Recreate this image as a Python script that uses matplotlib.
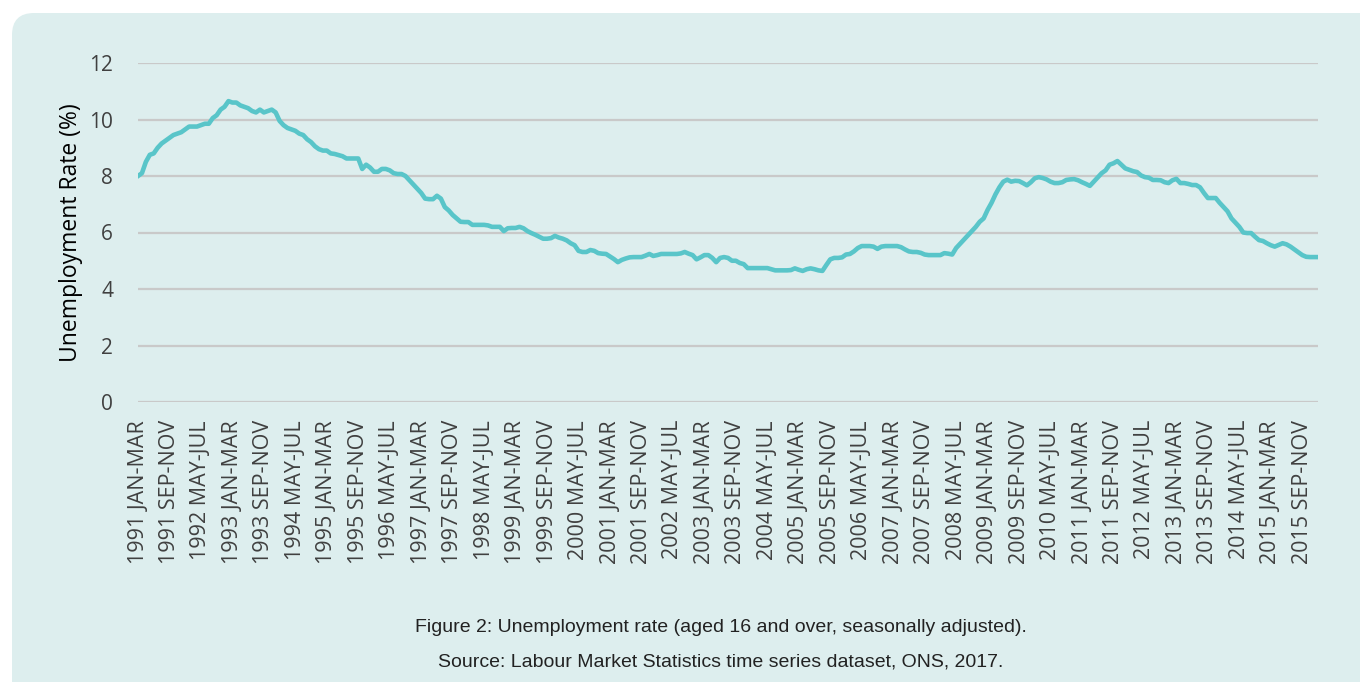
import matplotlib
matplotlib.use('Agg')
import matplotlib.pyplot as plt
from matplotlib.patches import FancyBboxPatch
from matplotlib.transforms import IdentityTransform

# unemployment rate, rolling quarters, 1991 JAN-MAR .. 2016 JAN-MAR
rate = [
    8.0, 8.1, 8.5, 8.75, 8.8, 9.0, 9.15, 9.25, 9.35, 9.45, 9.5, 9.55,
    9.65, 9.75, 9.75, 9.75, 9.8, 9.85, 9.85, 10.05, 10.15, 10.35, 10.45, 10.65,
    10.6, 10.6, 10.5, 10.45, 10.4, 10.3, 10.25, 10.35, 10.25, 10.3, 10.35, 10.25,
    9.95, 9.8, 9.7, 9.65, 9.6, 9.5, 9.45, 9.3, 9.2, 9.05, 8.95, 8.9,
    8.9, 8.8, 8.78, 8.74, 8.7, 8.62, 8.62, 8.62, 8.62, 8.25, 8.4, 8.3,
    8.15, 8.15, 8.25, 8.25, 8.2, 8.1, 8.07, 8.07, 8.0, 7.85, 7.7, 7.55,
    7.4, 7.2, 7.18, 7.18, 7.3, 7.2, 6.9, 6.78, 6.62, 6.5, 6.38, 6.37,
    6.37, 6.27, 6.27, 6.27, 6.27, 6.25, 6.2, 6.2, 6.2, 6.05, 6.15, 6.16,
    6.16, 6.2, 6.15, 6.05, 5.98, 5.92, 5.85, 5.78, 5.78, 5.8, 5.88, 5.82,
    5.78, 5.72, 5.62, 5.55, 5.35, 5.31, 5.31, 5.38, 5.35, 5.27, 5.25, 5.24,
    5.15, 5.06, 4.95, 5.03, 5.08, 5.12, 5.13, 5.13, 5.13, 5.18, 5.24, 5.17,
    5.2, 5.24, 5.24, 5.24, 5.24, 5.24, 5.26, 5.31, 5.25, 5.2, 5.05, 5.12,
    5.2, 5.2, 5.1, 4.95, 5.1, 5.13, 5.1, 5.0, 5.0, 4.92, 4.88, 4.74,
    4.74, 4.74, 4.74, 4.74, 4.74, 4.7, 4.66, 4.66, 4.66, 4.66, 4.67, 4.73,
    4.68, 4.64, 4.7, 4.73, 4.7, 4.66, 4.64, 4.85, 5.05, 5.1, 5.1, 5.12,
    5.22, 5.24, 5.33, 5.45, 5.52, 5.52, 5.52, 5.5, 5.42, 5.5, 5.52, 5.52,
    5.52, 5.52, 5.48, 5.4, 5.33, 5.31, 5.31, 5.28, 5.22, 5.2, 5.2, 5.2,
    5.2, 5.27, 5.25, 5.22, 5.45, 5.6, 5.75, 5.9, 6.05, 6.2, 6.38, 6.5,
    6.8, 7.05, 7.35, 7.6, 7.8, 7.87, 7.8, 7.83, 7.82, 7.75, 7.67, 7.78,
    7.92, 7.96, 7.93, 7.88, 7.8, 7.75, 7.75, 7.78, 7.86, 7.88, 7.89, 7.85,
    7.78, 7.72, 7.65, 7.8, 7.95, 8.1, 8.2, 8.4, 8.45, 8.53, 8.4, 8.27,
    8.22, 8.17, 8.14, 8.02, 7.96, 7.94, 7.86, 7.86, 7.85, 7.78, 7.75, 7.85,
    7.9, 7.75, 7.75, 7.72, 7.68, 7.68, 7.6, 7.4, 7.22, 7.22, 7.22, 7.05,
    6.9, 6.75, 6.5, 6.35, 6.2, 6.0, 5.98, 5.98, 5.85, 5.73, 5.7, 5.62,
    5.55, 5.5, 5.56, 5.62, 5.58, 5.5, 5.4, 5.3, 5.2, 5.14, 5.13, 5.13,
    5.13,
]

tick_labels = [
    '1991 JAN-MAR', '1991 SEP-NOV', '1992 MAY-JUL', '1993 JAN-MAR', '1993 SEP-NOV',
    '1994 MAY-JUL', '1995 JAN-MAR', '1995 SEP-NOV', '1996 MAY-JUL', '1997 JAN-MAR',
    '1997 SEP-NOV', '1998 MAY-JUL', '1999 JAN-MAR', '1999 SEP-NOV', '2000 MAY-JUL',
    '2001 JAN-MAR', '2001 SEP-NOV', '2002 MAY-JUL', '2003 JAN-MAR', '2003 SEP-NOV',
    '2004 MAY-JUL', '2005 JAN-MAR', '2005 SEP-NOV', '2006 MAY-JUL', '2007 JAN-MAR',
    '2007 SEP-NOV', '2008 MAY-JUL', '2009 JAN-MAR', '2009 SEP-NOV', '2010 MAY-JUL',
    '2011 JAN-MAR', '2011 SEP-NOV', '2012 MAY-JUL', '2013 JAN-MAR', '2013 SEP-NOV',
    '2014 MAY-JUL', '2015 JAN-MAR', '2015 SEP-NOV',
]
tick_step = 8   # one label every 8 months

y_ticks = [0, 2, 4, 6, 8, 10, 12]

caption = 'Figure 2: Unemployment rate (aged 16 and over, seasonally adjusted).'
source = 'Source: Labour Market Statistics time series dataset, ONS, 2017.'

panel_col = '#ddeeee'
line_col = '#59c5c9'
grid_col = '#c9c9c9'
text_col = '#404040'

plt.rcParams['font.family'] = ['Open Sans', 'DejaVu Sans']

fig = plt.figure(figsize=(13.6, 6.82), dpi=100, facecolor='white')

# rounded background panel (pixel coords), kept behind the axes
panel = FancyBboxPatch((12, -40), 1400, 682 - 13 + 40,
                       boxstyle='round,pad=0,rounding_size=22',
                       transform=IdentityTransform(),
                       facecolor=panel_col, edgecolor='none', zorder=-5)
fig.patches.append(panel)

ax = fig.add_axes([138 / 1360, 1 - 402 / 682, 1180 / 1360, 339 / 682])
ax.set_facecolor('none')
ax.set_zorder(2)

x = list(range(len(rate)))
ax.plot(x, rate, color=line_col, lw=3.3, solid_joinstyle='round', zorder=3)

ax.set_xlim(0, len(rate) - 1)
ax.set_ylim(0, 12)
ax.set_yticks(y_ticks)
ax.set_xticks(list(range(0, tick_step * len(tick_labels), tick_step)))
ax.set_xticklabels(tick_labels, rotation=90, fontsize=15.5, color=text_col)
ax.tick_params(axis='y', labelsize=15, colors=text_col, length=0, pad=18)
ax.tick_params(axis='x', length=0, pad=13)

ax.yaxis.grid(True, color=grid_col, lw=1.6)
ax.set_axisbelow(True)
for s in ax.spines.values():
    s.set_visible(False)

ax.set_ylabel('Unemployment Rate (%)', fontsize=16.5, color='black')
ax.yaxis.set_label_coords(-0.047, 0.5)

cap_font = ['Liberation Sans', 'DejaVu Sans']
fig.text(721 / 1360, 1 - 627 / 682, caption, ha='center', va='center',
         fontsize=14, color='#222222', family=cap_font)
fig.text(721 / 1360, 1 - 662 / 682, source, ha='center', va='center',
         fontsize=14, color='#222222', family=cap_font)

fig.savefig('out.png', dpi=100, facecolor='white')
